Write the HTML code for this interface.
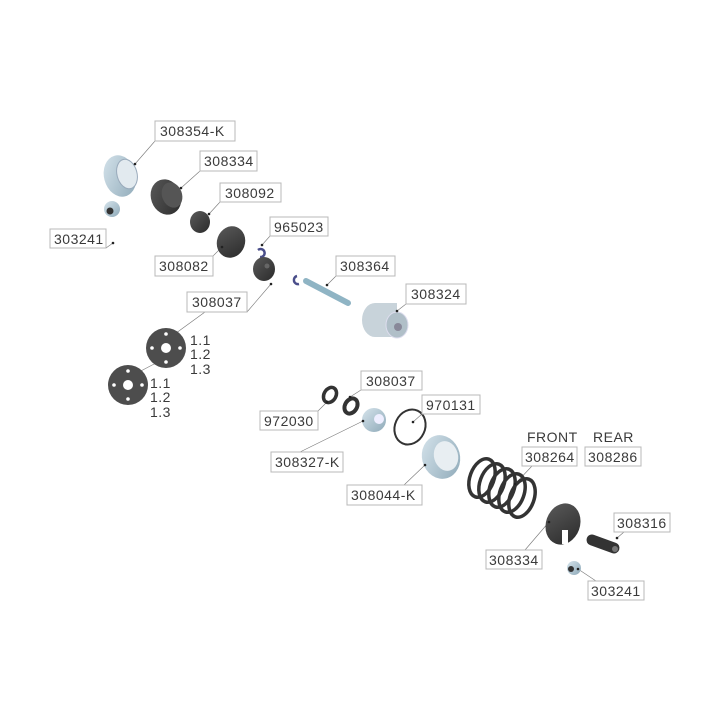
<!DOCTYPE html>
<html><head><meta charset="utf-8"><style>
html,body{margin:0;padding:0;background:#fff;}
svg{display:block;}
text{font-family:"Liberation Sans",sans-serif;font-size:14px;letter-spacing:0.5px;fill:#3a3a3a;}
.b{fill:#fff;stroke:#b8b8b8;stroke-width:1;}
.l{stroke:#777;stroke-width:0.6;fill:none;}
.d{fill:#222;}
</style></head><body>
<svg width="720" height="720" viewBox="0 0 720 720">
<defs>
<linearGradient id="bl" x1="0" y1="0" x2="1" y2="1"><stop offset="0" stop-color="#d6e4ec"/><stop offset="1" stop-color="#8ea9b8"/></linearGradient>
<linearGradient id="dk" x1="0" y1="0" x2="1" y2="1"><stop offset="0" stop-color="#5a5a5a"/><stop offset="1" stop-color="#2a2a2a"/></linearGradient>
</defs>
<g class="l">
<path d="M155 141 L135 164"/><path d="M200 171 L181 188"/><path d="M220 202 L209 214"/>
<path d="M270 236 L262 245"/><path d="M106 248 L113 243"/><path d="M213 256 L222 247"/>
<path d="M336 276 L327 285"/><path d="M406 304 L397 311"/><path d="M247 312 L271 284"/>
<path d="M205 312 L172 336"/><path d="M158 362 L135 374"/>
<path d="M361 390 L350 397"/><path d="M422 414 L413 422"/><path d="M318 411 L327 402"/>
<path d="M300 452 L363 421"/><path d="M404 485 L425 465"/><path d="M532 466 L515 484"/>
<path d="M624 532 L617 538"/><path d="M525 550 L549 522"/><path d="M596 581 L578 569"/>
</g>
<ellipse cx="120" cy="176" rx="16" ry="21" fill="url(#bl)" transform="rotate(-15 120 176)"/>
<ellipse cx="127" cy="174" rx="10" ry="15" fill="#e2eaef" stroke="#9ab" transform="rotate(-15 127 174)"/>
<ellipse cx="112" cy="209" rx="8" ry="8" fill="url(#bl)"/><circle cx="110" cy="211" r="3.5" fill="#333"/>
<ellipse cx="166" cy="197" rx="15" ry="18" fill="url(#dk)" transform="rotate(-20 166 197)"/>
<ellipse cx="172" cy="195" rx="10" ry="13" fill="#555" transform="rotate(-20 172 195)"/>
<ellipse cx="200" cy="222" rx="10" ry="11" fill="url(#dk)"/>
<ellipse cx="231" cy="242" rx="14" ry="16" fill="url(#dk)" transform="rotate(20 231 242)"/>
<path d="M258 250 a4 4 0 1 1 2 7" stroke="#4a4e8a" stroke-width="2.5" fill="none"/>
<ellipse cx="264" cy="269" rx="11" ry="12" fill="url(#dk)"/><circle cx="267" cy="266" r="2.5" fill="#666"/>
<path d="M297 276 a4 4 0 1 0 2 8" stroke="#4a4e8a" stroke-width="2.5" fill="none"/>
<path d="M306 281 L348 303" stroke="#8fb4c4" stroke-width="6" stroke-linecap="round"/>
<ellipse cx="375" cy="320" rx="13" ry="17" fill="#c8d3da"/>
<rect x="375" y="303" width="22" height="34" fill="#c8d3da"/>
<ellipse cx="397" cy="325" rx="11" ry="13" fill="#b0bfc8" stroke="#dde" />
<circle cx="398" cy="327" r="4" fill="#889"/>
<circle cx="166" cy="348" r="20" fill="#4d4d4d"/><circle cx="166" cy="348" r="5" fill="#fff"/>
<circle cx="166" cy="334" r="1.8" fill="#fff"/><circle cx="166" cy="362" r="1.8" fill="#fff"/><circle cx="152" cy="348" r="1.8" fill="#fff"/><circle cx="180" cy="348" r="1.8" fill="#fff"/>
<circle cx="128" cy="385" r="20" fill="#4d4d4d"/><circle cx="128" cy="385" r="5" fill="#fff"/>
<circle cx="128" cy="371" r="1.8" fill="#fff"/><circle cx="128" cy="399" r="1.8" fill="#fff"/><circle cx="114" cy="385" r="1.8" fill="#fff"/><circle cx="142" cy="385" r="1.8" fill="#fff"/>
<ellipse cx="330" cy="395" rx="6" ry="8" fill="none" stroke="#333" stroke-width="3.5" transform="rotate(30 330 395)"/>
<ellipse cx="351" cy="406" rx="6" ry="8" fill="none" stroke="#333" stroke-width="4" transform="rotate(30 351 406)"/>
<ellipse cx="374" cy="420" rx="12" ry="12" fill="url(#bl)"/><circle cx="379" cy="419" r="5" fill="#eef"/>
<ellipse cx="410" cy="427" rx="15" ry="18" fill="none" stroke="#333" stroke-width="2" transform="rotate(25 410 427)"/>
<ellipse cx="441" cy="457" rx="19" ry="22" fill="url(#bl)" transform="rotate(-15 441 457)"/>
<ellipse cx="446" cy="456" rx="12" ry="15" fill="#e8eef2" transform="rotate(-15 446 456)"/>
<g fill="none" stroke="#333" stroke-width="3.5">
<ellipse cx="482" cy="478" rx="12" ry="20" transform="rotate(20 482 478)"/>
<ellipse cx="492" cy="483" rx="12" ry="20" transform="rotate(20 492 483)"/>
<ellipse cx="502" cy="488" rx="12" ry="20" transform="rotate(20 502 488)"/>
<ellipse cx="512" cy="493" rx="12" ry="20" transform="rotate(20 512 493)"/>
<ellipse cx="522" cy="498" rx="12" ry="20" transform="rotate(20 522 498)"/>
</g>
<ellipse cx="563" cy="524" rx="17" ry="21" fill="url(#dk)" transform="rotate(20 563 524)"/>
<rect x="562" y="530" width="6" height="14" fill="#fff"/>
<path d="M592 540 L614 548" stroke="#333" stroke-width="11" stroke-linecap="round"/>
<circle cx="615" cy="549" r="3" fill="#777"/>
<ellipse cx="574" cy="568" rx="7" ry="7" fill="url(#bl)"/><circle cx="571" cy="569" r="3" fill="#333"/>
<g class="d"><circle cx="135" cy="164" r="1.3"/><circle cx="181" cy="188" r="1.3"/><circle cx="209" cy="214" r="1.3"/><circle cx="262" cy="245" r="1.3"/><circle cx="113" cy="243" r="1.3"/><circle cx="222" cy="247" r="1.3"/><circle cx="327" cy="285" r="1.3"/><circle cx="397" cy="311" r="1.3"/><circle cx="271" cy="284" r="1.3"/><circle cx="350" cy="397" r="1.3"/><circle cx="413" cy="422" r="1.3"/><circle cx="327" cy="402" r="1.3"/><circle cx="363" cy="421" r="1.3"/><circle cx="425" cy="465" r="1.3"/><circle cx="515" cy="484" r="1.3"/><circle cx="617" cy="538" r="1.3"/><circle cx="549" cy="522" r="1.3"/><circle cx="578" cy="569" r="1.3"/></g>
<rect class="b" x="155" y="121" width="80" height="20"/><text x="160" y="136">308354-K</text>
<rect class="b" x="200" y="151" width="57" height="20"/><text x="204" y="166">308334</text>
<rect class="b" x="220" y="183" width="61" height="19"/><text x="225" y="198">308092</text>
<rect class="b" x="270" y="217" width="58" height="19"/><text x="274" y="232">965023</text>
<rect class="b" x="50" y="229" width="56" height="19"/><text x="54" y="244">303241</text>
<rect class="b" x="155" y="256" width="58" height="20"/><text x="159" y="271">308082</text>
<rect class="b" x="336" y="256" width="59" height="20"/><text x="340" y="271">308364</text>
<rect class="b" x="406" y="284" width="60" height="20"/><text x="411" y="299">308324</text>
<rect class="b" x="187" y="292" width="60" height="20"/><text x="192" y="307">308037</text>
<text x="190" y="345">1.1</text><text x="190" y="359">1.2</text><text x="190" y="374">1.3</text>
<text x="150" y="388">1.1</text><text x="150" y="402">1.2</text><text x="150" y="417">1.3</text>
<rect class="b" x="361" y="371" width="61" height="19"/><text x="366" y="386">308037</text>
<rect class="b" x="422" y="395" width="58" height="19"/><text x="426" y="410">970131</text>
<rect class="b" x="260" y="411" width="58" height="19"/><text x="264" y="426">972030</text>
<rect class="b" x="271" y="452" width="72" height="20"/><text x="275" y="467">308327-K</text>
<text x="527" y="442">FRONT</text><text x="593" y="442">REAR</text>
<rect class="b" x="522" y="447" width="55" height="19"/><text x="525" y="462">308264</text>
<rect class="b" x="585" y="447" width="56" height="19"/><text x="588" y="462">308286</text>
<rect class="b" x="347" y="485" width="75" height="20"/><text x="351" y="500">308044-K</text>
<rect class="b" x="614" y="513" width="56" height="19"/><text x="617" y="528">308316</text>
<rect class="b" x="486" y="550" width="56" height="19"/><text x="489" y="565">308334</text>
<rect class="b" x="588" y="581" width="56" height="19"/><text x="591" y="596">303241</text>
</svg>
</body></html>
